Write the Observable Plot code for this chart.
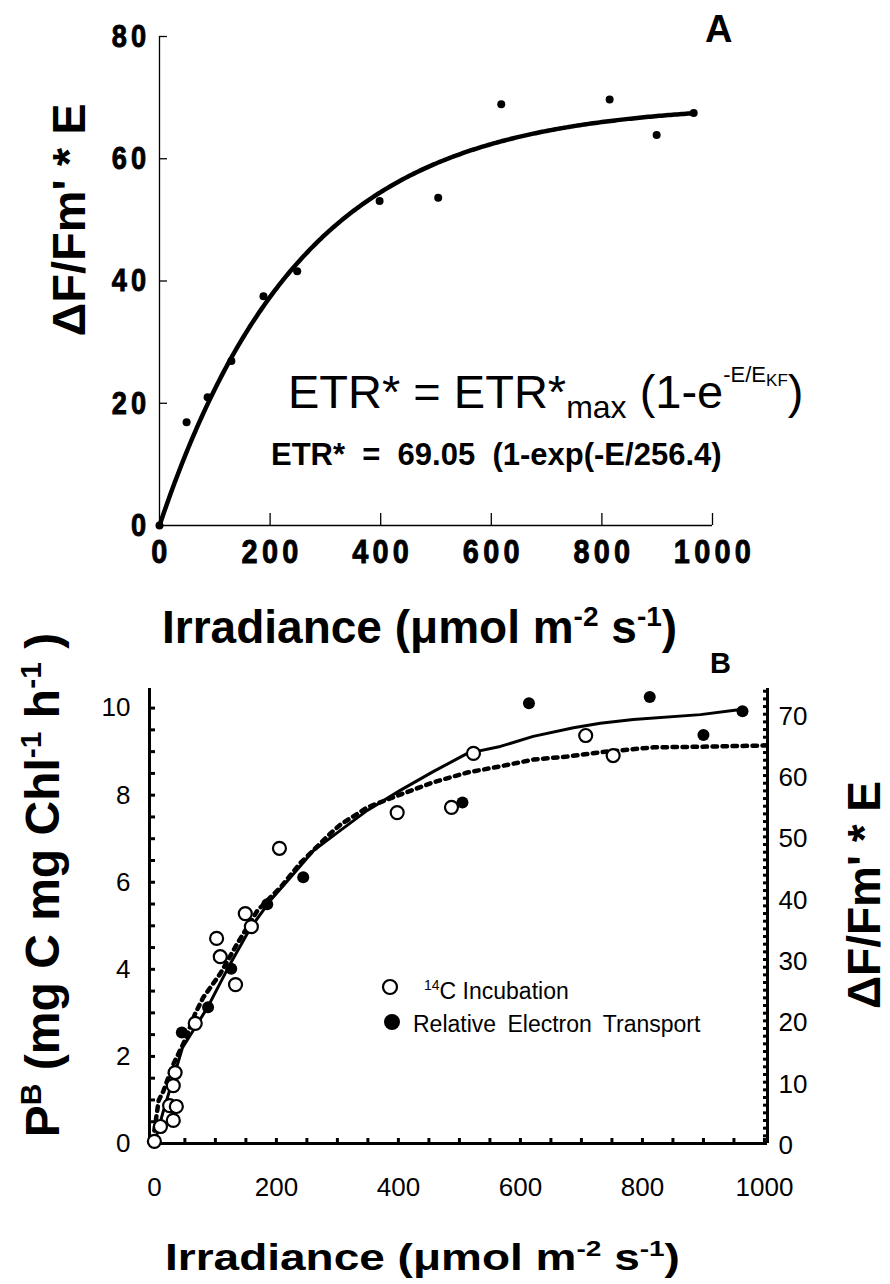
<!DOCTYPE html>
<html>
<head>
<meta charset="utf-8">
<script src="https://cdn.jsdelivr.net/npm/d3@7"></script>
<script src="https://cdn.jsdelivr.net/npm/@observablehq/plot@0.6"></script>
<style>
  body { margin: 0; background: #fff; }
  #fig { position: relative; width: 890px; height: 1284px; overflow: hidden; background: #fff; }
  #fig svg { position: absolute; left: 0; }
</style>
</head>
<body>
<div id="fig"></div>
<script>
// ---------- Panel A: ΔF/Fm' * E versus irradiance ----------
const irrA = [0, 49, 87, 130, 188, 249, 398, 504, 618, 814, 899, 966];
const etrA = [0, 16.9, 21.0, 26.9, 37.5, 41.6, 53.1, 53.6, 68.9, 69.7, 63.9, 67.5];
// fitted parameters printed on the panel: ETR* = 69.05 (1-exp(-E/256.4))
const etrMax = 69.05;
const eKF = 256.4;
const xTicksA = [0, 200, 400, 600, 800, 1000];
const yTicksA = [0, 20, 40, 60, 80];

// ---------- Panel B: 14C productivity and relative electron transport ----------
const irr14C = [0, 10, 25, 36, 31, 31, 34, 67, 102, 108, 133, 149, 159, 205, 398, 487, 523, 707, 752];
const pb14C  = [0.05, 0.39, 0.87, 0.85, 0.53, 1.33, 1.63, 2.76, 4.71, 4.29, 3.65, 5.28, 4.98, 6.78, 7.60, 7.72, 8.96, 9.37, 8.91];
const irrETR = [45, 88, 126, 185, 244, 505, 614, 812, 900, 964];
const etrB   = [18.1, 22.2, 28.5, 39.0, 43.4, 55.6, 71.8, 72.8, 66.6, 70.5];
// fitted curve through the 14C incubations (left axis)
const fit14C_E = [0, 15, 30, 46, 87, 121, 157, 190, 223, 261, 300, 349, 403, 457, 513, 567, 621, 687, 731, 785, 895, 961];
const fit14C_P = [0, 0.76, 1.45, 2.20, 3.12, 4.04, 4.94, 5.58, 6.11, 6.73, 7.14, 7.65, 8.11, 8.54, 8.96, 9.12, 9.35, 9.55, 9.65, 9.74, 9.85, 9.97];
// fitted curve through the electron transport data (right axis)
const fitETR_E = [0, 7, 15, 30, 50, 67, 80, 108, 136, 169, 207, 239, 289, 305, 349, 403, 457, 513, 567, 621, 677, 731, 818, 895, 1002];
const fitETR_R = [2.1, 7.0, 8.6, 12.7, 16.8, 21.2, 23.8, 27.7, 32.6, 38.0, 41.8, 45.7, 50.6, 52.0, 54.8, 56.9, 58.9, 60.5, 61.5, 62.6, 63.1, 63.8, 64.6, 64.7, 64.9];
const xDomainB = [-8, 1005];
const yDomainB = [0, 10.45];
const rPerP = 7.1;             // right-axis units per left-axis unit
const xTicksB = [0, 200, 400, 600, 800, 1000];
const yTicksB = [0, 2, 4, 6, 8, 10];
const rTicksB = [0, 10, 20, 30, 40, 50, 60, 70];

const FONT = '"Liberation Sans", Arial, Helvetica, sans-serif';
const plain = d => String(d);

function richText(svg, x, y, opts, parts) {
  let tf = `translate(${x},${y})`;
  if (opts.rotate) tf += ` rotate(${opts.rotate})`;
  if (opts.scale) tf += ` scale(${opts.scale})`;
  const t = d3.select(svg).append("text")
    .attr("transform", tf)
    .attr("font-family", FONT)
    .attr("font-size", opts.size)
    .attr("font-weight", opts.weight || "normal")
    .attr("text-anchor", opts.anchor || "start")
    .attr("fill", "black")
    .style("white-space", "pre");
  if (opts.wordSpacing) t.attr("word-spacing", opts.wordSpacing);
  for (const p of parts) {
    const ts = t.append("tspan").text(p.t);
    if (p.size) ts.attr("font-size", p.size);
    if (p.dy) ts.attr("dy", p.dy);
  }
  return t;
}

const fig = document.getElementById("fig");

// ----- Panel A -----
const ptsA = irrA.map((e, i) => ({e, v: etrA[i]}));
const curveA = d3.range(0, 967, 4).concat([966]).map(e => ({e, v: etrMax * (1 - Math.exp(-e / eKF))}));

const plotA = Plot.plot({
  width: 890, height: 680,
  marginLeft: 159, marginRight: 178, marginTop: 36, marginBottom: 155,
  style: {background: "transparent", fontFamily: FONT, overflow: "visible", color: "black"},
  x: {domain: [0, 1000], label: null},
  y: {domain: [0, 80], label: null},
  marks: [
    Plot.ruleX([0], {stroke: "black", strokeWidth: 1.3}),
    Plot.ruleY([0], {stroke: "black", strokeWidth: 1.3}),
    Plot.axisX(xTicksA.slice(1), {anchor: "bottom", label: null, tickSize: 12, dy: -12, strokeWidth: 1.3, tickFormat: () => ""}),
    Plot.axisY(yTicksA.slice(1), {anchor: "left", label: null, tickSize: 8, dx: 8, strokeWidth: 1.3, tickFormat: () => ""}),
    Plot.axisX(xTicksA, {anchor: "bottom", label: null, tickSize: 0, tickPadding: 13, fontSize: 34, fontWeight: "bold", tickFormat: plain, dx: 2}),
    Plot.axisY(yTicksA, {anchor: "left", label: null, tickSize: 0, tickPadding: 9, fontSize: 32, fontWeight: "bold", tickFormat: plain}),
    Plot.line(curveA, {x: "e", y: "v", stroke: "black", strokeWidth: 4.5}),
    Plot.dot(ptsA, {x: "e", y: "v", r: 4, fill: "black"})
  ]
});
plotA.style.top = "0px";
fig.appendChild(plotA);
// tall, narrow, widely tracked heavy tick numerals
d3.select(plotA).selectAll('g[aria-label$="tick label"] text')
  .style("letter-spacing", "5px")
  .style("stroke", "black")
  .style("stroke-width", "0.9px")
  .attr("transform", function () { return (this.getAttribute("transform") || "") + " scale(0.85,1)"; });

richText(plotA, 705, 42, {size: 38, weight: "bold"}, [{t: "A"}]);
richText(plotA, 85, 220, {size: 47, weight: "bold", rotate: -90, anchor: "middle"}, [{t: "ΔF/Fm' * E"}]);
richText(plotA, 162, 643, {size: 46, weight: "bold"}, [
  {t: "Irradiance (μmol m"}, {t: "-2", size: 28, dy: -17}, {t: " s", dy: 17}, {t: "-1", size: 28, dy: -17}, {t: ")", dy: 17}
]);
richText(plotA, 288, 408, {size: 47}, [
  {t: "ETR* = ETR*"}, {t: "max", size: 32, dy: 10}, {t: " (1-e", dy: -10},
  {t: "-E/E", size: 22, dy: -26}, {t: "KF", size: 17, dy: 4}, {t: ")", dy: 22}
]);
richText(plotA, 271, 465, {size: 31, weight: "bold"}, [{t: "ETR*  =  69.05  (1-exp(-E/256.4)"}]);

// ----- Panel B -----
const pts14C = irr14C.map((e, i) => ({e, p: pb14C[i]}));
const ptsETR = irrETR.map((e, i) => ({e, r: etrB[i]}));
const fit14C = fit14C_E.map((e, i) => ({e, p: fit14C_P[i]}));
const fitETR = fitETR_E.map((e, i) => ({e, r: fitETR_R[i]}));

const plotB = Plot.plot({
  width: 890, height: 654,
  marginLeft: 149, marginRight: 123, marginTop: 58, marginBottom: 141,
  style: {background: "transparent", fontFamily: FONT, overflow: "visible", color: "black"},
  x: {domain: xDomainB, label: null},
  y: {domain: yDomainB, label: null},
  marks: [
    // minor ticks pointing into the plot
    Plot.axisY(d3.range(0.5, 10.3, 0.5), {anchor: "left", label: null, tickSize: 6, dx: 6, strokeWidth: 3, tickFormat: () => ""}),
    Plot.axisX(d3.range(50, 1001, 50), {anchor: "bottom", label: null, tickSize: 5, dy: -5, strokeWidth: 3, tickFormat: () => ""}),
    Plot.axisY(d3.range(1.25, 74, 1.25).map(r => r / rPerP), {anchor: "right", label: null, tickSize: 5, dx: -5, strokeWidth: 3, tickFormat: () => ""}),
    // tick labels
    Plot.axisY(yTicksB, {anchor: "left", label: null, tickSize: 0, tickPadding: 19, fontSize: 26, tickFormat: plain}),
    Plot.axisX(xTicksB, {anchor: "bottom", label: null, tickSize: 0, tickPadding: 34, fontSize: 26, tickFormat: plain}),
    Plot.axisY(rTicksB.map(r => r / rPerP), {anchor: "right", label: null, tickSize: 0, tickPadding: 11, dy: 2, fontSize: 26,
      tickFormat: p => String(Math.round(p * rPerP))}),
    // axis lines
    Plot.ruleX([xDomainB[0]], {stroke: "black", strokeWidth: 3}),
    Plot.ruleX([xDomainB[1]], {stroke: "black", strokeWidth: 3}),
    Plot.ruleY([0], {stroke: "black", strokeWidth: 3}),
    // fitted curves
    Plot.line(fit14C, {x: "e", y: "p", stroke: "black", strokeWidth: 3}),
    Plot.line(fitETR, {x: "e", y: d => d.r / rPerP, stroke: "black", strokeWidth: 4.5, strokeDasharray: "4.5,5.5"}),
    // observations
    Plot.dot(ptsETR, {x: "e", y: d => d.r / rPerP, r: 6, fill: "black"}),
    Plot.dot(pts14C, {x: "e", y: "p", r: 6.5, fill: "white", stroke: "black", strokeWidth: 2.2})
  ]
});
plotB.style.top = "630px";
fig.appendChild(plotB);

richText(plotB, 710, 43, {size: 29, weight: "bold"}, [{t: "B"}]);
richText(plotB, 59, 255, {size: 48, weight: "bold", rotate: -90, anchor: "middle"}, [
  {t: "P"}, {t: "B", size: 30, dy: -18}, {t: " (mg C mg Chl", dy: 18}, {t: "-1", size: 30, dy: -18},
  {t: " h", dy: 18}, {t: "-1", size: 30, dy: -18}, {t: " )", dy: 18}
]);
richText(plotB, 880, 265, {size: 46, weight: "bold", rotate: -90, anchor: "middle"}, [{t: "ΔF/Fm' * E"}]);
richText(plotB, 165, 640, {size: 46, weight: "bold", scale: "1,0.8"}, [
  {t: "Irradiance (μmol m"}, {t: "-2", size: 28, dy: -17}, {t: " s", dy: 17}, {t: "-1", size: 28, dy: -17}, {t: ")", dy: 17}
]);

// legend
const lg = d3.select(plotB).append("g").attr("aria-label", "legend");
lg.append("circle").attr("cx", 390).attr("cy", 357).attr("r", 7).attr("fill", "white").attr("stroke", "black").attr("stroke-width", 2.2);
lg.append("circle").attr("cx", 392).attr("cy", 392).attr("r", 8).attr("fill", "black");
richText(plotB, 424, 369, {size: 23}, [{t: "14", size: 14, dy: -9}, {t: "C Incubation", dy: 9}]);
richText(plotB, 413, 402, {size: 23, wordSpacing: 5}, [{t: "Relative Electron Transport"}]);
</script>
</body>
</html>
